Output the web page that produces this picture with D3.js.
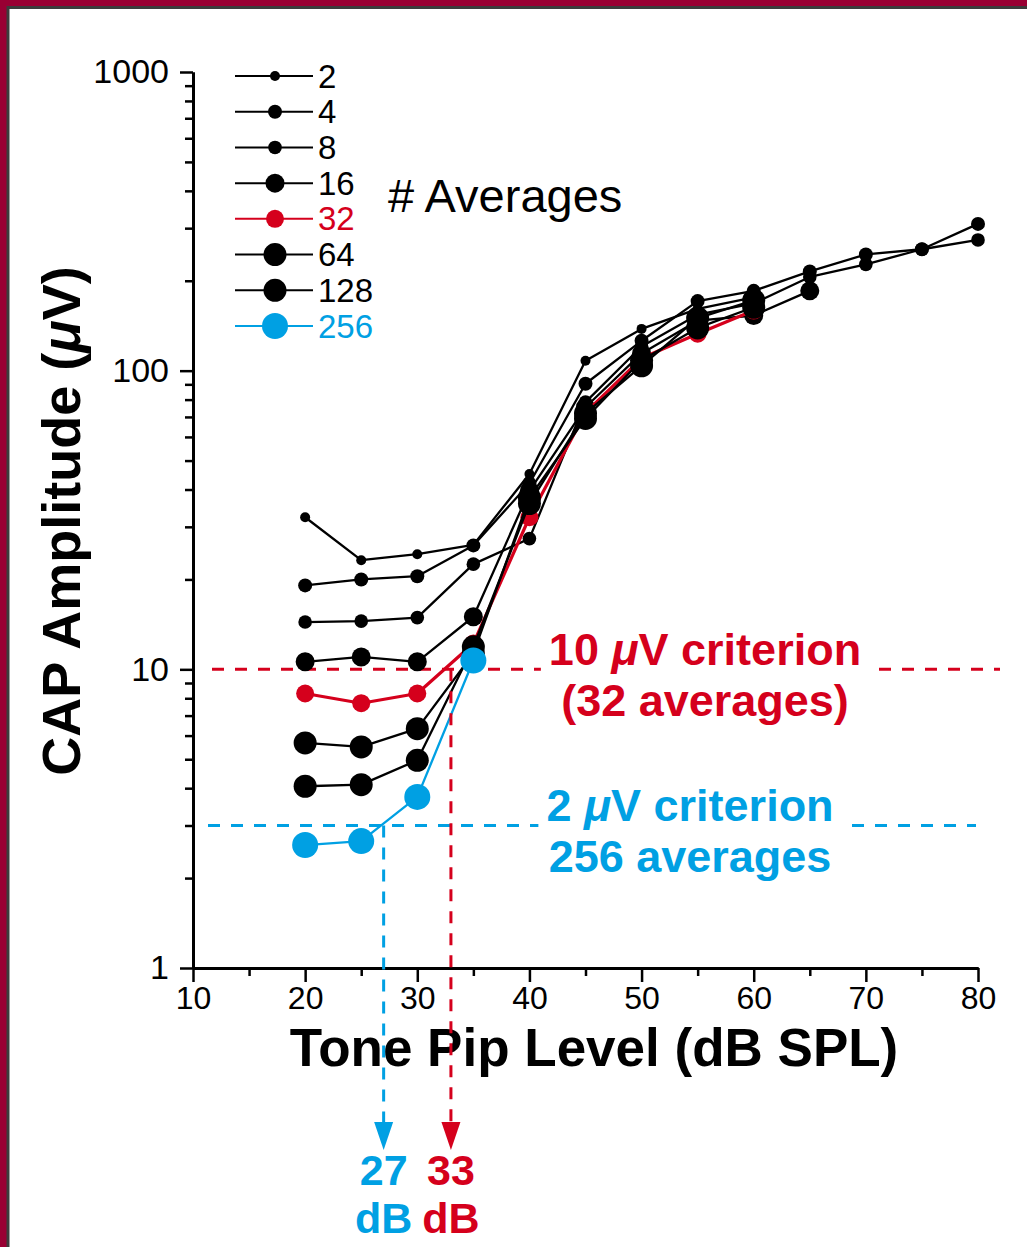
<!DOCTYPE html>
<html>
<head>
<meta charset="utf-8">
<script src="https://cdn.jsdelivr.net/npm/d3@7"></script>
<style>
  html, body { margin: 0; padding: 0; background: #fff; }
  svg { display: block; }
  text { font-family: "Liberation Sans", Arial, Helvetica, sans-serif; }
</style>
</head>
<body>
<svg id="chart" width="1027" height="1247"></svg>
<script>
// Tone pip levels (dB SPL) at which the CAP was measured
const levels = [20, 25, 30, 35, 40, 45, 50, 55, 60, 65, 70, 75, 80];

// Number of averages per curve
const averages = ["2", "4", "8", "16", "32", "64", "128", "256"];

// CAP amplitude (µV) per number of averages; null = not measured
const amp2   = [32.3, 23.2, 24.3, 26.1, 45.1, 108,  138,   161, 176, null, null, null, null];
const amp4   = [19.1, 20.0, 20.5, 26.0, 41.9, 90.4, 125.9, 171, 185, 215,  245,  255,  310];
const amp8   = [14.4, 14.5, 14.9, 22.5, 27.4, 78.5, 120.5, 154, 168, 206,  227,  255,  274];
const amp16  = [10.6, 11.0, 10.6, 15.0, 39.6, 75.4, 114.2, 147, 153, 185,  null, null, null];
const amp32  = [8.3,  7.7,  8.3,  12.2, 32.3, 72.3, 110,   133, 159, null, null, null, null];
const amp64  = [5.67, 5.5,  6.33, 11.3, 37.6, 69.2, 108.3, 139, 163, null, null, null, null];
const amp128 = [4.06, 4.11, 4.96, 11.9, 35.9, 72.0, 103.8, 150, 172, null, null, null, null];
const amp256 = [2.58, 2.66, 3.74, 10.7, null, null, null,  null, null, null, null, null, null];
const amplitudes = [amp2, amp4, amp8, amp16, amp32, amp64, amp128, amp256];

// Axis ticks
const xMajorTicks = [10, 20, 30, 40, 50, 60, 70, 80];
const xMinorTicks = [15, 25, 35, 45, 55, 65, 75];
const yMajorTicks = [1, 10, 100, 1000];
const yMinorTicks = [2, 3, 4, 5, 6, 7, 8, 9, 20, 30, 40, 50, 60, 70, 80, 90, 200, 300, 400, 500, 600, 700, 800, 900];

// Criterion levels (µV) and resulting thresholds (dB SPL)
const redCriterion = 10;
const blueCriterion = 3;
const redThreshold = 33;
const blueThreshold = 27;

// ---- styling ----
const RED = "#d5001c";
const BLUE = "#00a0e3";
const MAROON = "#990033";
const seriesColor = ["#000", "#000", "#000", "#000", RED, "#000", "#000", BLUE];
const seriesRadius = [5, 7, 6.8, 9.5, 9, 11.5, 11.5, 13];
const seriesWidth = [2.3, 2.3, 2.3, 2.3, 3.2, 2.3, 2.3, 2.3];

const svg = d3.select("#chart");
const W = 1027, H = 1247;

// frame
svg.append("rect").attr("x", 0).attr("y", 0).attr("width", W).attr("height", H).attr("fill", MAROON);
svg.append("rect").attr("x", 8).attr("y", 7.5).attr("width", W + 20).attr("height", H + 20)
  .attr("fill", "#fff").attr("stroke", "#3c3c3c").attr("stroke-width", 3);

const x = d3.scaleLinear().domain([10, 80]).range([193, 978]);
const y = d3.scaleLog().domain([1, 1000]).range([968, 72]);

const font = "'Liberation Sans', Arial, Helvetica, sans-serif";

// ---- criterion lines (behind the data) ----
const critG = svg.append("g");
critG.append("line")
  .attr("x1", 212).attr("x2", 1000).attr("y1", y(redCriterion)).attr("y2", y(redCriterion))
  .attr("stroke", RED).attr("stroke-width", 3).attr("stroke-dasharray", "12 11");
critG.append("line")
  .attr("x1", 208).attr("x2", 976).attr("y1", y(blueCriterion)).attr("y2", y(blueCriterion))
  .attr("stroke", BLUE).attr("stroke-width", 3).attr("stroke-dasharray", "12 11");

// two-line criterion label on a white patch that interrupts the dashed line
function criterionLabel(g, lines, cx, color) {
  const tg = g.append("g");
  const bg = tg.append("rect").attr("fill", "#fff");
  const t = tg.append("text")
    .attr("text-anchor", "middle")
    .attr("font-size", 45).attr("font-weight", "bold")
    .attr("fill", color);
  lines.forEach(([parts, baseline]) => {
    parts.forEach(([s, italic], k) => {
      const ts = t.append("tspan").text(s).attr("font-style", italic ? "italic" : null);
      if (k === 0) ts.attr("x", cx).attr("y", baseline);
    });
  });
  const b = t.node().getBBox();
  bg.attr("x", b.x - 8).attr("y", b.y).attr("width", b.width + 16).attr("height", b.height);
}
criterionLabel(critG, [
  [[["10 ", false], ["\u03bc", true], ["V criterion", false]], 665],
  [[["(32 averages)", false]], 716]
], 705, RED);
criterionLabel(critG, [
  [[["2 ", false], ["\u03bc", true], ["V criterion", false]], 821],
  [[["256 averages", false]], 872]
], 690, BLUE);

// ---- axes ----
function styleAxis(g) {
  g.select(".domain").attr("stroke", "#000").attr("stroke-width", 3);
  g.selectAll(".tick line").attr("stroke", "#000").attr("stroke-width", 2.5);
  g.selectAll(".tick text").attr("font-size", 33).attr("font-family", font).attr("fill", "#000");
}

const yAxisMinor = svg.append("g").attr("transform", "translate(193,0)")
  .call(d3.axisLeft(y).tickValues(yMinorTicks).tickSize(8).tickSizeOuter(0).tickFormat(""));
styleAxis(yAxisMinor);
const yAxis = svg.append("g").attr("transform", "translate(193,0)")
  .call(d3.axisLeft(y).tickValues(yMajorTicks).tickSize(13).tickPadding(11).tickSizeOuter(0).tickFormat(d3.format("d")));
styleAxis(yAxis);
yAxis.selectAll(".tick text").attr("font-size", 34);

const xAxisMinor = svg.append("g").attr("transform", "translate(0,968)")
  .call(d3.axisBottom(x).tickValues(xMinorTicks).tickSize(8).tickSizeOuter(0).tickFormat(""));
styleAxis(xAxisMinor);
const xAxis = svg.append("g").attr("transform", "translate(0,968)")
  .call(d3.axisBottom(x).tickValues(xMajorTicks).tickSize(14).tickPadding(4).tickSizeOuter(0));
styleAxis(xAxis);
xAxis.selectAll(".tick text").attr("font-size", 32);

// axis titles
svg.append("text")
  .attr("x", 594).attr("y", 1066)
  .attr("text-anchor", "middle").attr("font-size", 53).attr("font-weight", "bold")
  .text("Tone Pip Level (dB SPL)");

const yTitle = svg.append("text")
  .attr("transform", "translate(80,521) rotate(-90)")
  .attr("text-anchor", "middle").attr("font-size", 54).attr("font-weight", "bold");
yTitle.append("tspan").text("CAP Amplitude (");
yTitle.append("tspan").text("\u03bc").attr("font-style", "italic");
yTitle.append("tspan").text("V)");

// ---- data series ----
const line = d3.line()
  .defined(d => d.v != null)
  .x(d => x(d.level))
  .y(d => y(d.v));

amplitudes.forEach((vals, i) => {
  const pts = levels.map((level, j) => ({ level, v: vals[j] }));
  const g = svg.append("g");
  g.append("path")
    .attr("d", line(pts))
    .attr("fill", "none")
    .attr("stroke", seriesColor[i])
    .attr("stroke-width", seriesWidth[i])
    .attr("stroke-linejoin", "round");
  g.selectAll("circle")
    .data(pts.filter(d => d.v != null))
    .join("circle")
    .attr("cx", d => x(d.level))
    .attr("cy", d => y(d.v))
    .attr("r", seriesRadius[i])
    .attr("fill", seriesColor[i]);
});

// ---- threshold arrows ----
function thresholdArrow(level, fromValue, color, label) {
  const g = svg.append("g");
  const px = x(level);
  g.append("line")
    .attr("x1", px).attr("x2", px)
    .attr("y1", y(fromValue)).attr("y2", 1124)
    .attr("stroke", color).attr("stroke-width", 3).attr("stroke-dasharray", "12 10");
  g.append("path")
    .attr("d", `M${px - 9.5},1122 L${px + 9.5},1122 L${px},1150 Z`)
    .attr("fill", color);
  // value and unit stacked in one text block
  const t = g.append("text").attr("text-anchor", "middle").attr("font-size", 43)
    .attr("font-weight", "bold").attr("fill", color);
  t.append("tspan").attr("x", px).attr("y", 1185).text(label);
  t.append("tspan").attr("x", px).attr("y", 1233).text("dB");
}
thresholdArrow(blueThreshold, blueCriterion, BLUE, String(blueThreshold));
thresholdArrow(redThreshold, redCriterion, RED, String(redThreshold));

// ---- legend ----
const legend = svg.append("g");
const rowY = d3.scalePoint().domain(averages).range([76, 326]);
averages.forEach((name, i) => {
  const yy = rowY(name);
  legend.append("line").attr("x1", 235).attr("x2", 313).attr("y1", yy).attr("y2", yy)
    .attr("stroke", seriesColor[i]).attr("stroke-width", 2);
  legend.append("circle").attr("cx", 275).attr("cy", yy).attr("r", seriesRadius[i]).attr("fill", seriesColor[i]);
  legend.append("text").attr("x", 318).attr("y", yy + 11.5)
    .attr("font-size", 33).attr("fill", seriesColor[i]).text(name);
});
legend.append("text").attr("x", 388).attr("y", 212).attr("font-size", 47).text("# Averages");
</script>
</body>
</html>
